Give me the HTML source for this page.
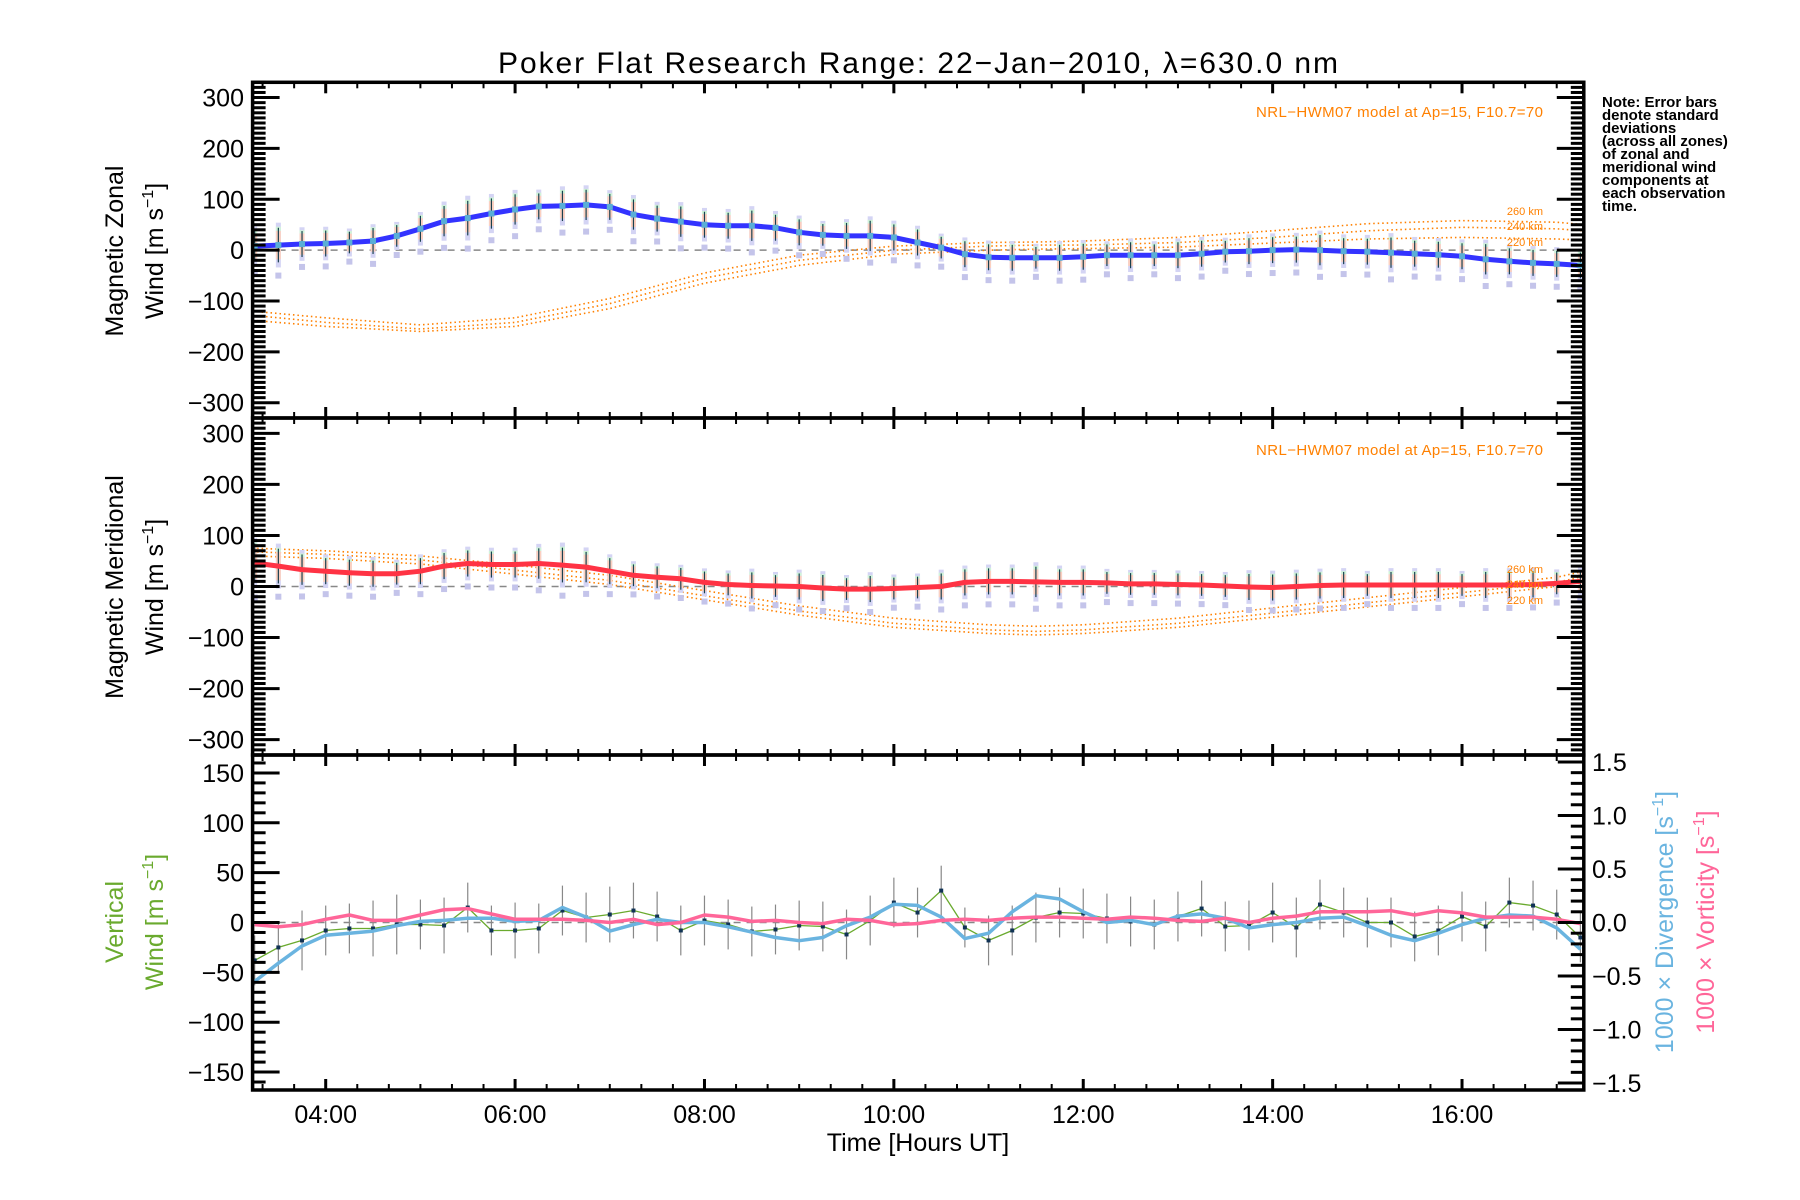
<!DOCTYPE html>
<html><head><meta charset="utf-8"><style>
html,body{margin:0;padding:0;background:#fff;}
svg{display:block;font-family:"Liberation Sans",sans-serif;}
</style></head><body>
<svg id="chart" width="1800" height="1200" viewBox="0 0 1800 1200" xmlns="http://www.w3.org/2000/svg">
<rect width="1800" height="1200" fill="#fff"/>
<text x="918" y="73" font-size="30" text-anchor="middle" textLength="840">Poker Flat Research Range: 22−Jan−2010, λ=630.0 nm</text>
<g id="marks"></g>
<g id="axes"></g>
<g font-size="15" font-weight="bold">
<text x="1602" y="107">Note: Error bars</text>
<text x="1602" y="120">denote standard</text>
<text x="1602" y="133">deviations</text>
<text x="1602" y="146">(across all zones)</text>
<text x="1602" y="159">of zonal and</text>
<text x="1602" y="172">meridional wind</text>
<text x="1602" y="185">components at</text>
<text x="1602" y="198">each observation</text>
<text x="1602" y="211">time.</text>
</g>
<text x="1543" y="117" font-size="15" fill="#ff8000" text-anchor="end" textLength="287">NRL−HWM07 model at Ap=15, F10.7=70</text>
<text x="1543" y="455" font-size="15" fill="#ff8000" text-anchor="end" textLength="287">NRL−HWM07 model at Ap=15, F10.7=70</text>
<g font-size="11" fill="#ff8000" text-anchor="end">
<text x="1543" y="215">260 km</text><text x="1543" y="230">240 km</text><text x="1543" y="246">220 km</text>
<text x="1543" y="573">260 km</text><text x="1543" y="588">240 km</text><text x="1543" y="604">220 km</text>
</g>
<g font-size="25">
<text transform="translate(123,251) rotate(-90)" text-anchor="middle">Magnetic Zonal</text>
<text transform="translate(163,251) rotate(-90)" text-anchor="middle">Wind [m s<tspan font-size="16" dy="-10">−1</tspan><tspan dy="10">]</tspan></text>
<text transform="translate(123,587) rotate(-90)" text-anchor="middle">Magnetic Meridional</text>
<text transform="translate(163,587) rotate(-90)" text-anchor="middle">Wind [m s<tspan font-size="16" dy="-10">−1</tspan><tspan dy="10">]</tspan></text>
<text transform="translate(123,922) rotate(-90)" text-anchor="middle" fill="#6aaa2e">Vertical</text>
<text transform="translate(163,922) rotate(-90)" text-anchor="middle" fill="#6aaa2e">Wind [m s<tspan font-size="16" dy="-10">−1</tspan><tspan dy="10">]</tspan></text>
<text transform="translate(1673,922) rotate(-90)" text-anchor="middle" fill="#6ab4e0">1000 × Divergence [s<tspan font-size="16" dy="-10">−1</tspan><tspan dy="10">]</tspan></text>
<text transform="translate(1714,922) rotate(-90)" text-anchor="middle" fill="#ff6699">1000 × Vorticity [s<tspan font-size="16" dy="-10">−1</tspan><tspan dy="10">]</tspan></text>
</g>
<text x="918" y="1151" font-size="25" text-anchor="middle">Time [Hours UT]</text>
</svg>
<script>
const times = [3.25,3.5,3.75,4,4.25,4.5,4.75,5,5.25,5.5,5.75,6,6.25,6.5,6.75,7,7.25,7.5,7.75,8,8.25,8.5,8.75,9,9.25,9.5,9.75,10,10.25,10.5,10.75,11,11.25,11.5,11.75,12,12.25,12.5,12.75,13,13.25,13.5,13.75,14,14.25,14.5,14.75,15,15.25,15.5,15.75,16,16.25,16.5,16.75,17,17.25];
const zonal = [8,10,12,13,15,18,28,42,57,63,72,80,86,87,89,85,70,62,56,50,48,48,44,35,30,28,28,25,15,5,-8,-14,-15,-15,-15,-13,-10,-10,-10,-10,-7,-3,-2,0,1,0,-2,-3,-5,-7,-9,-12,-18,-22,-25,-27,-30];
const zonalErr = [35,40,30,30,25,30,25,30,35,40,35,35,30,35,35,30,35,30,35,30,30,35,30,30,25,30,35,30,30,25,30,30,30,25,30,30,25,30,25,30,30,25,30,30,30,35,30,30,35,30,30,30,35,30,30,30,30];
const meridional = [46,40,33,30,27,25,25,30,40,45,43,43,45,42,38,30,22,18,15,8,4,2,1,0,-3,-5,-5,-4,-2,0,8,10,10,9,8,8,7,5,5,4,3,1,-1,-2,0,2,3,3,3,3,3,3,3,3,4,6,10];
const merErr = [45,40,35,30,30,30,25,30,30,30,30,30,35,40,35,30,25,25,25,25,25,30,25,30,30,25,30,25,25,30,30,30,30,35,30,30,25,25,25,25,25,25,30,30,30,30,30,25,30,30,30,25,30,30,30,25,25];
const modelTimes = [3.228,4,5,6,7,8,9,10,11,11.5,12,13,14,15,16,17,17.286];
const zonal260 = [-120,-133,-147,-133,-95,-45,-10,8,15,16,18,25,38,52,58,55,50];
const zonal240 = [-128,-142,-155,-142,-105,-55,-20,0,8,10,10,15,25,38,45,42,38];
const zonal220 = [-138,-150,-160,-150,-115,-65,-30,-8,0,2,3,6,14,22,25,22,20];
const mer260 = [75,70,60,42,22,-8,-38,-62,-75,-78,-75,-62,-42,-22,-2,18,30];
const mer240 = [68,63,52,32,12,-18,-48,-72,-85,-88,-85,-72,-52,-32,-12,8,20];
const mer220 = [60,55,44,24,4,-26,-56,-80,-92,-95,-92,-80,-60,-40,-20,0,12];
const vertical = [-38,-25,-18,-8,-6,-6,-2,-2,-3,15,-8,-8,-6,12,5,8,12,6,-8,2,-2,-9,-7,-3,-4,-12,2,20,10,32,-5,-18,-8,5,10,9,4,1,-2,6,14,-4,-3,10,-5,18,10,0,0,-14,-8,6,-4,20,17,8,-15];
const verticalErr = [25,25,30,25,25,28,30,25,28,25,25,28,25,25,25,28,28,25,25,25,25,25,25,25,25,25,25,25,25,25,20,25,25,25,25,25,25,25,25,25,28,25,25,30,30,25,25,25,25,25,25,25,25,25,25,25,25];
const divergence = [-0.55,-0.38,-0.22,-0.12,-0.1,-0.08,-0.03,0.01,0.02,0.04,0.04,0.01,0.02,0.14,0.05,-0.08,-0.02,0.03,0,0,-0.04,-0.09,-0.14,-0.17,-0.14,-0.03,0.05,0.17,0.16,0.05,-0.15,-0.1,0.1,0.25,0.22,0.1,0,0.02,-0.02,0.06,0.08,0.04,-0.05,-0.02,0,0.04,0.05,-0.03,-0.12,-0.17,-0.1,-0.02,0.04,0.07,0.06,-0.05,-0.25];
const vorticity = [-0.02,-0.04,-0.02,0.03,0.07,0.02,0.02,0.07,0.12,0.13,0.08,0.03,0.03,0.03,0.02,0,0.03,-0.02,0,0.07,0.05,0.01,0.02,0,-0.01,0.03,0.02,-0.02,-0.01,0.02,0.03,0.02,0.04,0.05,0.05,0.04,0.03,0.05,0.04,0.02,0.01,0.04,0,0.04,0.06,0.1,0.1,0.1,0.11,0.07,0.11,0.09,0.05,0.05,0.05,0.03,-0.01];
const xTickHours = [4,6,8,10,12,14,16];
const xTickLabels = ["04:00","06:00","08:00","10:00","12:00","14:00","16:00"];
const windTicks = [300,200,100,0,-100,-200,-300];
const vertTicks = [150,100,50,0,-50,-100,-150];
const rightTicks = [1.5,1.0,0.5,0.0,-0.5,-1.0,-1.5];

const NS='http://www.w3.org/2000/svg';
const T0=3.228, T1=17.286, XL=252.6, XR=1583.8;
const X = t => XL + (t-T0)*(XR-XL)/(T1-T0);
const P = [{top:82.3,bot:418},{top:418,bot:755},{top:755,bot:1090}];
const ctr = p => (P[p].top+P[p].bot)/2;
const Yw = (p,v) => ctr(p) - v*(P[p].bot-P[p].top)/2/330;
const Yv = v => ctr(2) - v*(P[2].bot-P[2].top)/2/168;
const Yr = v => ctr(2) - v*(P[2].bot-P[2].top)/2/1.565;
const marks=document.getElementById('marks'), axes=document.getElementById('axes');
function mk(tag, attrs, parent){const e=document.createElementNS(NS,tag);for(const k in attrs)e.setAttribute(k,attrs[k]);(parent||marks).appendChild(e);return e;}
function poly(xs, ys, yf, style){return mk('polyline',Object.assign({points:xs.map((t,i)=>X(t).toFixed(1)+','+yf(ys[i]).toFixed(1)).join(' '),fill:'none'},style));}

const defs=mk('defs',{},document.getElementById('chart'));
[0,1,2].forEach(p=>{const c=mk('clipPath',{id:'clip'+p},defs);mk('rect',{x:XL,y:P[p].top,width:XR-XL,height:P[p].bot-P[p].top},c);});

[0,1].forEach(p=>{const l=mk('line',{x1:XL,x2:XR,y1:Yw(p,0),y2:Yw(p,0),stroke:'#888','stroke-width':1.5,'stroke-dasharray':'7 6'});

});
{const l=mk('line',{x1:XL,x2:XR,y1:Yv(0),y2:Yv(0),stroke:'#888','stroke-width':1.5,'stroke-dasharray':'7 6'});

}

function model(p, arr, name){const g=mk('g',{'clip-path':'url(#clip'+p+')'});
const l=poly(modelTimes,arr,v=>Yw(p,v),{stroke:'#ff8000','stroke-width':1.6,'stroke-dasharray':'1.5 3'});g.appendChild(l);

}
model(0,zonal260,'zonal-model-260km');model(0,zonal240,'zonal-model-240km');model(0,zonal220,'zonal-model-220km');
model(1,mer260,'meridional-model-260km');model(1,mer240,'meridional-model-240km');model(1,mer220,'meridional-model-220km');

function errbars(p, vals, errs, name){
 const g=mk('g',{'clip-path':'url(#clip'+p+')'});
 
 
 times.forEach((t,i)=>{const x=X(t),v=vals[i],e=errs[i];
  mk('rect',{x:x-2.5,y:Yw(p,v+e*1.1),width:5,height:Yw(p,v-e*1.1)-Yw(p,v+e*1.1),fill:'#d4d4f4'},g);
  mk('rect',{x:x-2.5,y:Yw(p,v+e*0.7),width:5,height:Yw(p,v-e*0.7)-Yw(p,v+e*0.7),fill:'#fbd0c0'},g);
  mk('rect',{x:x-2.5,y:Yw(p,v+e*0.9),width:5,height:Yw(p,v+e*0.7)-Yw(p,v+e*0.9),fill:'#d0f4d8'},g);
  mk('rect',{x:x-3,y:Yw(p,v-e*1.5)-3,width:6,height:6,fill:'#c4c4ea'},g);
  mk('line',{x1:x,x2:x,y1:Yw(p,v+e*0.85),y2:Yw(p,v-e*0.85),stroke:'#1a4050','stroke-width':1.2},g);
 });
}
errbars(0,zonal,zonalErr,'zonal-error-bars');
errbars(1,meridional,merErr,'meridional-error-bars');
{const l=poly(times,zonal,v=>Yw(0,v),{stroke:'#3333ff','stroke-width':5,'stroke-linejoin':'round'});

}
{const l=poly(times,meridional,v=>Yw(1,v),{stroke:'#ff3344','stroke-width':5,'stroke-linejoin':'round'});

}
times.forEach((t,i)=>{const r=mk('rect',{x:X(t)-3,y:Yw(0,zonal[i])-3,width:6,height:6,fill:'#5aaed6'});

});

{const g=mk('g',{'clip-path':'url(#clip2)'});
 
 
 times.forEach((t,i)=>{mk('line',{x1:X(t),x2:X(t),y1:Yv(vertical[i]+verticalErr[i]),y2:Yv(vertical[i]-verticalErr[i]),stroke:'#888','stroke-width':1.2},g);});
 const l=poly(times,vertical,Yv,{stroke:'#6aaa2e','stroke-width':1.3});g.appendChild(l);
 
 
 times.forEach((t,i)=>{const r=mk('rect',{x:X(t)-2,y:Yv(vertical[i])-2,width:4,height:4,fill:'#113355'},g);
 
 });
 const d=poly(times,divergence,Yr,{stroke:'#6ab4e0','stroke-width':3.5,'stroke-linejoin':'round'});g.appendChild(d);
 
 
 const o=poly(times,vorticity,Yr,{stroke:'#ff6699','stroke-width':3.5,'stroke-linejoin':'round'});g.appendChild(o);
 
 
}

function L(x1,y1,x2,y2,w){mk('line',{x1,y1,x2,y2,stroke:'#000','stroke-width':w},axes);}
function txt(x,y,s,anchor,name){const t=mk('text',{x,y,'font-size':25,'text-anchor':anchor},axes);t.textContent=s;

}
const fmt=v=>String(v).replace('-','−');
[0,1,2].forEach(p=>{
 const top=P[p].top,bot=P[p].bot;
 mk('rect',{x:XL,y:top,width:XR-XL,height:bot-top,fill:'none',stroke:'#000','stroke-width':3.5},axes);
 for(let m=200;m<=1040;m+=20){const t=m/60;if(t<T0||t>T1)continue;const x=X(t);const maj=(m%120===0);
  const len=maj?11:6;L(x,bot,x,bot-len,maj?3:2);L(x,top,x,top+len,maj?3:2);}
});
[0,1].forEach(p=>{
 for(let v=-330;v<=330;v+=10){const y=Yw(p,v);const maj=(v%100===0)&&Math.abs(v)<=300;const len=maj?27:13;
  L(XL,y,XL+len,y,3);L(XR,y,XR-len,y,3);}
 windTicks.forEach(v=>txt(244,Yw(p,v)+9,fmt(v),'end','y-tick-label'));
});
for(let v=-160;v<=160;v+=10){const y=Yv(v);const maj=v%50===0&&Math.abs(v)<=150;L(XL,y,XL+(maj?27:13),y,3);}
vertTicks.forEach(v=>txt(244,Yv(v)+9,fmt(v),'end','vertical-y-tick-label'));
for(let k=-15;k<=15;k++){const v=k/10;const y=Yr(v);const maj=k%5===0;L(XR,y,XR-(maj?26:13),y,3);}
rightTicks.forEach(v=>txt(1592,Yr(v)+9,fmt(v.toFixed(1)),'start','right-y-tick-label'));
xTickHours.forEach((h,i)=>txt(X(h),1123,xTickLabels[i],'middle','x-tick-label'));
</script>
</body></html>
